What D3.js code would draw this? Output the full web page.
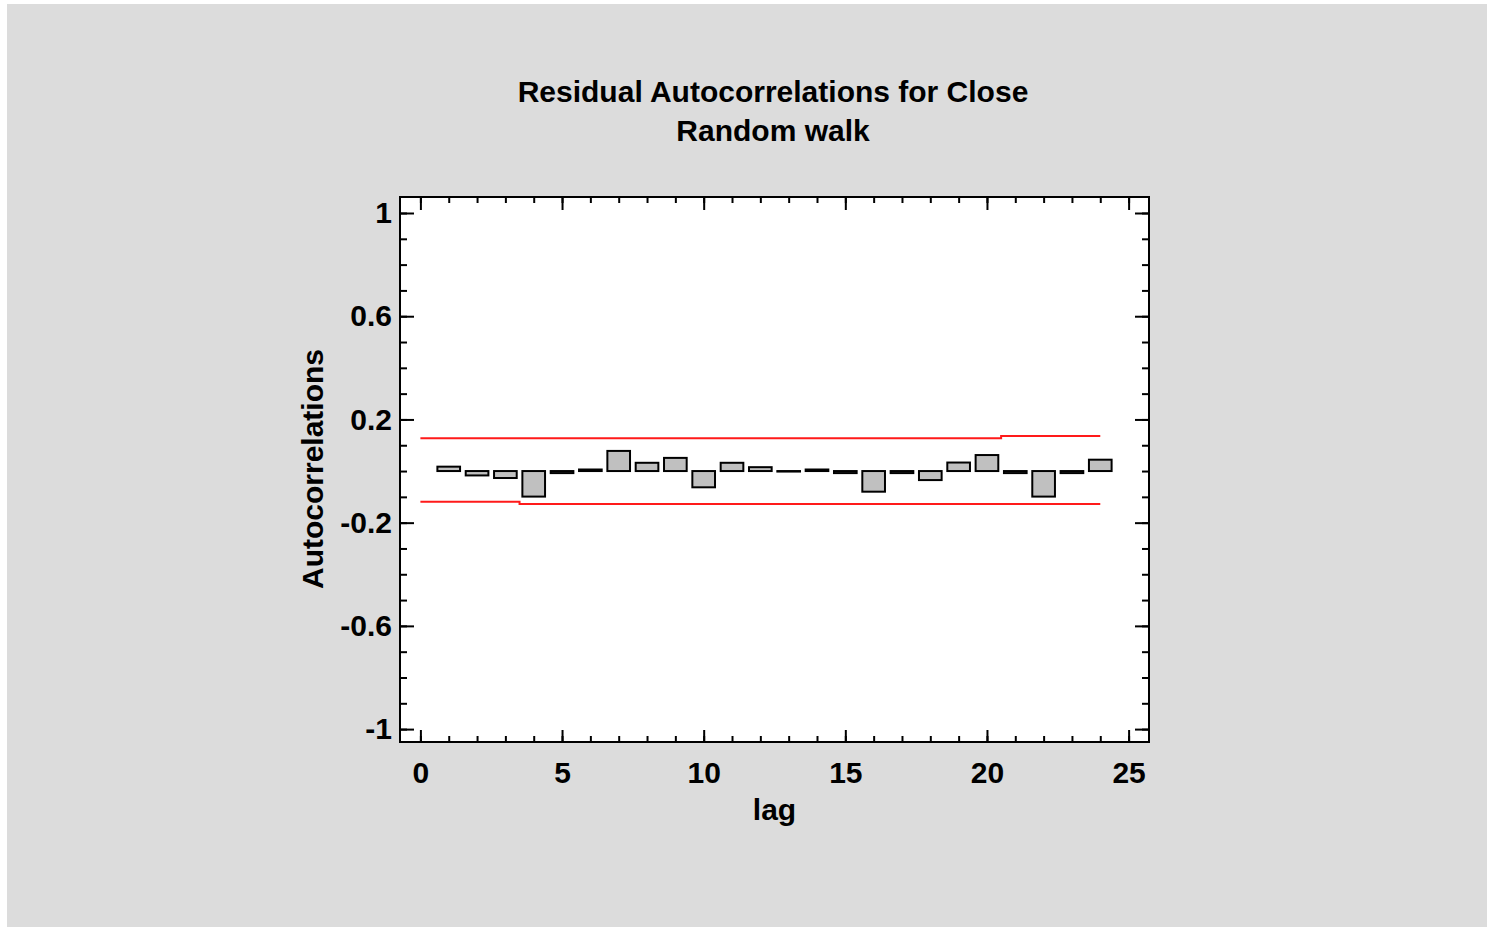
<!DOCTYPE html>
<html>
<head>
<meta charset="utf-8">
<script src="https://cdn.jsdelivr.net/npm/d3@7"></script>
<style>
html,body{margin:0;padding:0;background:#fff;}
svg{display:block;}
text{font-family:"Liberation Sans",Arial,sans-serif;font-weight:bold;fill:#000;}
</style>
</head>
<body>
<div id="chart"></div>
<script>
const titleLines = ["Residual Autocorrelations for Close","Random walk"];
const lags = d3.range(1,25);
const acf = [0.017,-0.017,-0.027,-0.099,-0.008,0.006,0.078,0.032,0.051,-0.063,0.032,0.015,-0.002,0.006,-0.008,-0.080,-0.008,-0.035,0.033,0.062,-0.008,-0.099,-0.008,0.044];
const limitLags = d3.range(0,25);
const upperLimit = [0.127,0.127,0.127,0.127,0.127,0.127,0.127,0.127,0.127,0.127,0.127,0.127,0.127,0.127,0.127,0.127,0.127,0.127,0.127,0.127,0.127,0.136,0.136,0.136,0.136];
const lowerLimit = [-0.119,-0.119,-0.119,-0.119,-0.128,-0.128,-0.128,-0.128,-0.128,-0.128,-0.128,-0.128,-0.128,-0.128,-0.128,-0.128,-0.128,-0.128,-0.128,-0.128,-0.128,-0.128,-0.128,-0.128,-0.128];
const xMajor = [0,5,10,15,20,25];
const xMinor = d3.range(0,26);
const yMajor = [-1,-0.6,-0.2,0.2,0.6,1];
const yMinor = d3.range(-10,11).map(d=>d/10);

const W=1487,H=927;
const P={left:400,right:1149,top:197,bottom:742};

const svg=d3.select("#chart").append("svg").attr("width",W).attr("height",H);
svg.append("rect").attr("x",7).attr("y",4).attr("width",W-7).attr("height",H-4).attr("fill","#dcdcdc");
svg.append("rect").attr("x",P.left).attr("y",P.top).attr("width",P.right-P.left).attr("height",P.bottom-P.top).attr("fill","#fff");

const x=d3.scaleLinear().domain([-0.72,25.72]).range([P.left,P.right]);
const y=d3.scaleLinear().domain([-1.05,1.062]).range([P.bottom,P.top]);

// title
svg.append("g").selectAll("text").data(titleLines).join("text")
  .attr("x",773).attr("y",(d,i)=>101.5+i*39.5).attr("text-anchor","middle").attr("font-size",30).text(d=>d);

// confidence limits
const step=d3.line().curve(d3.curveStep).x((d,i)=>x(limitLags[i])).y(d=>y(d));
[upperLimit,lowerLimit].forEach(s=>{
  svg.append("path").datum(s).attr("fill","none").attr("stroke","#ff1a1a").attr("stroke-width",2).attr("d",step);
});

// bars
const bw=0.8;
svg.append("g").selectAll("rect").data(lags).join("rect")
  .attr("x",(d)=>x(d-bw/2)).attr("width",x(bw)-x(0))
  .attr("y",(d,i)=>y(Math.max(0,acf[i]))).attr("height",(d,i)=>Math.abs(y(acf[i])-y(0)))
  .attr("fill","#c0c0c0").attr("stroke","#000").attr("stroke-width",2);

// axes, ticks point inward on all four sides
function styleAxis(g){ g.select(".domain").remove(); g.selectAll("line").attr("stroke","#000").attr("stroke-width",2); g.selectAll("text").attr("font-size",30).attr("font-family","Liberation Sans, Arial, sans-serif").attr("font-weight","bold").attr("fill","#000"); }
const yfmt=d=>String(+d.toFixed(1));

svg.append("g").attr("transform",`translate(${P.left},0)`).call(d3.axisLeft(y).tickValues(yMinor).tickSize(-7).tickFormat("")).call(styleAxis);
svg.append("g").attr("transform",`translate(${P.left},0)`).call(d3.axisLeft(y).tickValues(yMajor).tickSize(-14).tickPadding(8).tickFormat(yfmt)).call(styleAxis);
svg.append("g").attr("transform",`translate(${P.right},0)`).call(d3.axisRight(y).tickValues(yMinor).tickSize(-7).tickFormat("")).call(styleAxis);
svg.append("g").attr("transform",`translate(${P.right},0)`).call(d3.axisRight(y).tickValues(yMajor).tickSize(-14).tickFormat("")).call(styleAxis);

svg.append("g").attr("transform",`translate(0,${P.bottom})`).call(d3.axisBottom(x).tickValues(xMinor).tickSize(-6).tickFormat("")).call(styleAxis);
svg.append("g").attr("transform",`translate(0,${P.bottom})`).call(d3.axisBottom(x).tickValues(xMajor).tickSize(-12).tickPadding(20).tickFormat(d3.format("d"))).call(styleAxis);
svg.append("g").attr("transform",`translate(0,${P.top})`).call(d3.axisTop(x).tickValues(xMinor).tickSize(-6).tickFormat("")).call(styleAxis);
svg.append("g").attr("transform",`translate(0,${P.top})`).call(d3.axisTop(x).tickValues(xMajor).tickSize(-13).tickFormat("")).call(styleAxis);

svg.append("rect").attr("x",P.left).attr("y",P.top).attr("width",P.right-P.left).attr("height",P.bottom-P.top)
  .attr("fill","none").attr("stroke","#000").attr("stroke-width",2);

// axis titles
svg.append("text").attr("x",774.5).attr("y",820).attr("text-anchor","middle").attr("font-size",30).text("lag");
svg.append("text").attr("transform","translate(323,469) rotate(-90)").attr("text-anchor","middle").attr("font-size",30).text("Autocorrelations");
</script>
</body>
</html>
